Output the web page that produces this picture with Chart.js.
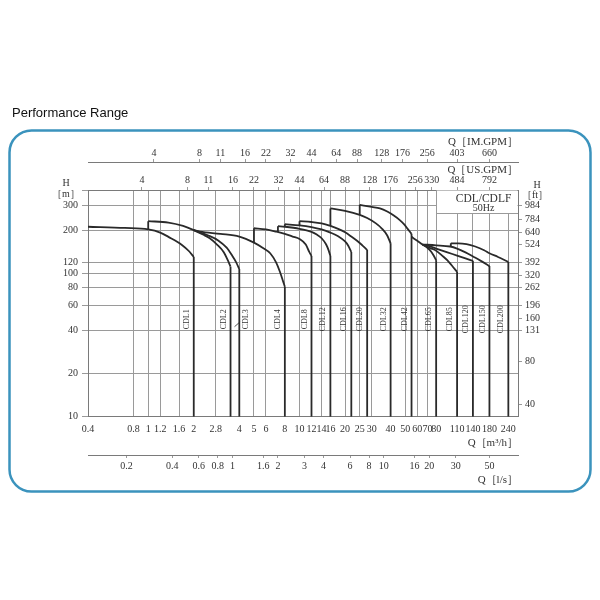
<!DOCTYPE html>
<html><head><meta charset="utf-8">
<script src="https://cdn.jsdelivr.net/npm/chart.js@4.4.1/dist/chart.umd.min.js"></script>
<style>html,body{margin:0;padding:0;background:#fff}</style>
</head><body>
<canvas id="c" width="600" height="600"></canvas>
<script>
// ---------- data (Q in m3/h, H in m) ----------
const pumpNames = ['CDL1','CDL2','CDL3','CDL4','CDL8','CDL12','CDL16','CDL20','CDL32','CDL42','CDL65','CDL85','CDL120','CDL150','CDL200'];
const cdl1Q = [0.4,0.7,1.0,1.2,1.36,1.67,1.87,2.0];
const cdl1H = [213,209,204,194,181,159,143,131];
const cdl2Q = [1.0,1.36,1.7,2.0,2.3,2.55,2.85,3.15,3.35,3.5];
const cdl2H = [233,228,216,202,188,177,160,142,125,112];
const cdl3Q = [2.0,2.5,2.9,3.3,3.6,3.8,4.0];
const cdl3H = [202,185,171,152,133,121,108];
const cdl4Q = [2.0,2.2,3.0,4.0,5.0,5.7,6.4,7.0,7.4,7.8,8.0];
const cdl4H = [202,197,190,182,165,152,139,120,104,88,81];
const cdl8Q = [5,6,7,8,9,10,11,11.6,12];
const cdl8H = [208,204,197,190,182,175,160,142,133];
const cdl12Q = [7.2,8,10,12,13,14,15,15.6,16];
const cdl12H = [215,213,206,196,188,177,160,145,133];
const cdl16Q = [8,10,12,14,16,18,20,21,22];
const cdl16H = [222,218,212,204,194,183,168,157,142];
const cdl20Q = [10,12,14,16,18,20,22,24,26,28];
const cdl20H = [233,230,225,216,206,195,182,170,158,147];
const cdl32Q = [16,20,25,28,32,35,38,40];
const cdl32H = [286,275,258,245,225,207,185,163];
const cdl42Q = [25,30,34,38,42,46,49,52,55];
const cdl42H = [303,293,286,272,255,237,222,205,190];
const cdl65Q = [55,60,65,70,74,77,80];
const cdl65H = [181,170,160,152,143,134,124];
const cdl85Q = [65,73,80,89,95,101,110];
const cdl85H = [160,151,145,132,124,115,103];
const cdl120Q = [65,72,80,95,110,125,140];
const cdl120H = [160,156,150,141,134,128,123];
const cdl150Q = [65,80,99,110,125,142,160,180];
const cdl150H = [160,158,155,150,141,131,122,113];
const cdl200Q = [100,112,127,145,166,180,205,240];
const cdl200H = [163,163,161,155,146,139,131,121];
// head where each range's left (minimum-flow) edge begins (null = no left edge)
const leftBaseH = [null,204,null,null,165,196,213,218,216,258,null,null,null,null,155];
// leader line from the CDL3 label
const leaderQ = [3.72,4.05];
const leaderH = [42.6,46.1];
const labelH = 48;               // head at which the rotated pump labels sit
const labelSide = [-1,-1,1,-1,-1,-1,-1,-1,-1,-1,-1,-1,-1,-1,-1];

// axes
const qMin = 0.4, qMax = 278;
const hMin = 10, hMax = 385;
const qTicks = [0.4,0.8,1,1.2,1.6,2,2.8,4,5,6,8,10,12,14,16,20,25,30,40,50,60,70,80,110,140,180,240];
const hTicks = [10,20,40,60,80,100,120,200,300];
const ftTicks = [40,80,131,160,196,262,320,392,524,640,784,984];
const usTicks = [4,8,11,16,22,32,44,64,88,128,176,256,330,484,792];
const imTicks = [4,8,11,16,22,32,44,64,88,128,176,256,403,660];
const lsTicks = [0.2,0.4,0.6,0.8,1,1.6,2,3,4,6,8,10,16,20,30,50];
const US_PER_M3H = 4.403, IM_PER_M3H = 3.666, LS_PER_M3H = 1/3.6, FT_PER_M = 1/0.3048;

// ---------- styling ----------
const SERIF = '"Liberation Serif","DejaVu Serif",serif';
const TXT = '#333';
const GRID = '#9a9a9a';
const BORDER = '#7a7a7a';
const CURVE = '#2a2a2a';
const tickFont = {family: SERIF, size: 10};
const titleFont = {family: SERIF, size: 11};

const curveQ = [cdl1Q,cdl2Q,cdl3Q,cdl4Q,cdl8Q,cdl12Q,cdl16Q,cdl20Q,cdl32Q,cdl42Q,cdl65Q,cdl85Q,cdl120Q,cdl150Q,cdl200Q];
const curveH = [cdl1H,cdl2H,cdl3H,cdl4H,cdl8H,cdl12H,cdl16H,cdl20H,cdl32H,cdl42H,cdl65H,cdl85H,cdl120H,cdl150H,cdl200H];

const datasets = [];
const lineStyle = {borderColor: CURVE, borderWidth: 1.8, pointRadius: 0, showLine: true, fill: false, xAxisID: 'x', yAxisID: 'y'};
curveQ.forEach((q, i) => {
  const h = curveH[i];
  datasets.push(Object.assign({label: pumpNames[i], data: q.map((v, k) => ({x: v, y: h[k]})), cubicInterpolationMode: 'monotone'}, lineStyle));
  const n = q.length - 1;
  datasets.push(Object.assign({label: pumpNames[i] + ' max', data: [{x: q[n], y: h[n]}, {x: q[n], y: hMin}], tension: 0}, lineStyle));
  if (leftBaseH[i] !== null) {
    datasets.push(Object.assign({label: pumpNames[i] + ' min', data: [{x: q[0], y: leftBaseH[i]}, {x: q[0], y: h[0]}], tension: 0}, lineStyle));
  }
});
datasets.push(Object.assign({}, lineStyle, {label: 'leader', data: leaderQ.map((v, k) => ({x: v, y: leaderH[k]})), borderWidth: 0.8, tension: 0}));

function setTicks(list) { return s => { s.ticks = list.map(v => ({value: v})); }; }
function fmt(v) { return String(v); }

const decor = {
  id: 'decor',
  beforeDraw(chart) {
    const c = chart.ctx;
    c.save();
    c.fillStyle = '#fff';
    c.fillRect(0, 0, chart.width, chart.height);
    // page title
    c.fillStyle = '#111';
    c.font = '13px "Liberation Sans", Arial, sans-serif';
    c.textBaseline = 'middle';
    c.textAlign = 'left';
    c.fillText('Performance Range', 12, 113);
    // rounded frame
    c.strokeStyle = '#3b93bd';
    c.lineWidth = 2.5;
    c.beginPath();
    c.roundRect(9.5, 130.5, 581, 361, 22);
    c.stroke();
    c.restore();
  },
  beforeDatasetsDraw(chart) {
    const c = chart.ctx, a = chart.chartArea, xs = chart.scales.x;
    const bx = Math.round(xs.getPixelForValue(80)) + 0.5, by = a.top + 23.5;
    c.save();
    c.fillStyle = '#fff';
    c.fillRect(bx + 0.5, a.top + 0.5, a.right - bx - 1, by - a.top - 0.5);
    c.strokeStyle = GRID;
    c.lineWidth = 1;
    c.beginPath();
    c.moveTo(bx, a.top); c.lineTo(bx, by); c.lineTo(a.right, by);
    c.stroke();
    c.fillStyle = TXT;
    c.textAlign = 'center';
    c.textBaseline = 'middle';
    c.font = '11.5px ' + SERIF;
    c.fillText('CDL/CDLF', bx + 47, a.top + 9);
    c.font = '10px ' + SERIF;
    c.fillText('50Hz', bx + 47, a.top + 18.5);
    // axis unit captions
    c.font = '10px ' + SERIF;
    c.fillText('H', 66, 183);
    c.fillText('［m］', 66, 194.5);
    c.fillText('H', 537, 185);
    c.fillText('［ft］', 535, 195);
    c.restore();
  },
  afterDatasetsDraw(chart) {
    const c = chart.ctx, xs = chart.scales.x, ys = chart.scales.y;
    c.save();
    c.fillStyle = TXT;
    c.font = '8px ' + SERIF;
    c.textAlign = 'center';
    c.textBaseline = 'middle';
    curveQ.forEach((q, i) => {
      const px = xs.getPixelForValue(q[q.length - 1]) + labelSide[i] * 7;
      const py = ys.getPixelForValue(labelH);
      c.save();
      c.translate(px, py);
      c.rotate(-Math.PI / 2);
      c.fillText(pumpNames[i], 0, 0);
      c.restore();
    });
    c.restore();
  }
};

new Chart(document.getElementById('c'), {
  type: 'scatter',
  data: {datasets},
  plugins: [decor],
  options: {
    responsive: false,
    animation: false,
    devicePixelRatio: 1,
    layout: {padding: {top: 134, bottom: 112, left: 0, right: 0}},
    plugins: {legend: {display: false}, tooltip: {enabled: false}},
    scales: {
      x: {
        type: 'logarithmic', position: 'bottom', min: qMin, max: qMax,
        afterBuildTicks: setTicks(qTicks), afterFit: s => { s.height = 38.3; },
        ticks: {autoSkip: false, maxRotation: 0, minRotation: 0, padding: 7, font: tickFont, color: TXT, callback: (v, i) => fmt(qTicks[i])},
        grid: {color: GRID, lineWidth: 1, drawTicks: false},
        border: {color: BORDER, width: 1},
        title: {display: true, text: 'Q［m³/h］', align: 'end', font: titleFont, color: TXT, padding: {top: 0, bottom: 5.4}}
      },
      xls: {
        type: 'logarithmic', position: 'bottom', min: qMin * LS_PER_M3H, max: qMax * LS_PER_M3H,
        afterBuildTicks: setTicks(lsTicks), afterFit: s => { s.height = 33; },
        ticks: {autoSkip: false, maxRotation: 0, minRotation: 0, padding: 2.7, font: tickFont, color: TXT, callback: (v, i) => fmt(lsTicks[i])},
        grid: {drawOnChartArea: false, color: GRID, tickLength: 3},
        border: {color: BORDER, width: 1},
        title: {display: true, text: 'Q［l/s］', align: 'end', font: titleFont, color: TXT, padding: {top: 0, bottom: 1.4}}
      },
      xus: {
        type: 'logarithmic', position: 'top', min: qMin * US_PER_M3H, max: qMax * US_PER_M3H,
        afterBuildTicks: setTicks(usTicks), afterFit: s => { s.height = 28; },
        ticks: {autoSkip: false, maxRotation: 0, minRotation: 0, padding: 1, font: tickFont, color: TXT, callback: (v, i) => fmt(usTicks[i])},
        grid: {drawOnChartArea: false, color: GRID, tickLength: 3},
        border: {color: BORDER, width: 1},
        title: {display: true, text: 'Q［US.GPM］', align: 'end', font: titleFont, color: TXT, padding: {top: 2, bottom: 0}}
      },
      xim: {
        type: 'logarithmic', position: 'top', min: qMin * IM_PER_M3H, max: qMax * IM_PER_M3H,
        afterBuildTicks: setTicks(imTicks), afterFit: s => { s.height = 28; },
        ticks: {autoSkip: false, maxRotation: 0, minRotation: 0, padding: 0, font: tickFont, color: TXT, callback: (v, i) => fmt(imTicks[i])},
        grid: {drawOnChartArea: false, color: GRID, tickLength: 3},
        border: {color: BORDER, width: 1},
        title: {display: true, text: 'Q［IM.GPM］', align: 'end', font: titleFont, color: TXT, padding: {top: 1.1, bottom: 0}}
      },
      y: {
        type: 'logarithmic', position: 'left', min: hMin, max: hMax,
        afterBuildTicks: s => { s.ticks = hTicks.concat([s.max]).map(v => ({value: v})); },
        afterFit: s => { s.width = 88; },
        ticks: {autoSkip: false, padding: 4, font: tickFont, color: TXT, callback: (v, i) => (i < hTicks.length ? fmt(hTicks[i]) : '')},
        grid: {color: GRID, lineWidth: 1, tickLength: 6},
        border: {color: BORDER, width: 1}
      },
      yft: {
        type: 'logarithmic', position: 'right', min: hMin * FT_PER_M, max: hMax * FT_PER_M,
        afterBuildTicks: setTicks(ftTicks), afterFit: s => { s.width = 82; },
        ticks: {autoSkip: false, padding: 3, font: tickFont, color: TXT, callback: (v, i) => fmt(ftTicks[i])},
        grid: {drawOnChartArea: false, color: GRID, tickLength: 4},
        border: {color: BORDER, width: 1}
      }
    }
  }
});
</script>
</body></html>
